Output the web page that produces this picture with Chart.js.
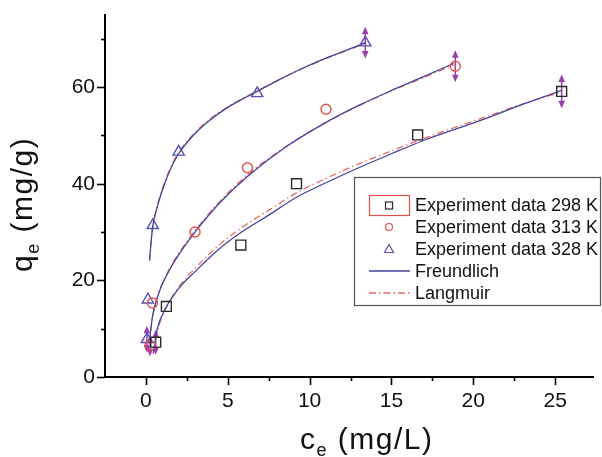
<!DOCTYPE html>
<html>
<head>
<meta charset="utf-8">
<script src="https://cdn.jsdelivr.net/npm/chart.js@4.4.0/dist/chart.umd.min.js"></script>
<style>
  body { margin: 0; background: #fff; }
</style>
</head>
<body>
<canvas id="isoterma" width="602" height="457"></canvas>
<script>
// experiment data (c_e in mg/L, q_e in mg/g)
const x298 = [0.6, 1.25, 5.8, 9.2, 16.6, 25.4];
const y298 = [7.2, 14.6, 27.3, 40.0, 50.1, 59.1];
const x313 = [0.25, 0.4, 3.0, 6.2, 11.0, 18.9];
const y313 = [6.5, 15.3, 30.0, 43.3, 55.4, 64.3];
const x328 = [0.06, 0.12, 0.42, 2.0, 6.8, 13.4];
const y328 = [7.8, 16.0, 31.4, 46.6, 58.7, 69.2];

// fitted curves
const xFit298 = [0.45, 0.7, 1.2, 2.0, 3.0, 4.4, 5.8, 7.5, 9.2, 11, 13, 15, 17, 19, 21, 23, 25.4];
const yFreu298 = [5.0, 10.0, 14.2, 18.3, 21.8, 26.3, 29.9, 33.5, 37.2, 40.2, 43.3, 46.2, 49.0, 51.4, 53.8, 56.4, 59.3];
const yLang298 = [4.8, 9.5, 14.0, 18.6, 22.5, 27.1, 30.8, 34.5, 38.1, 41.1, 44.1, 46.8, 49.4, 51.8, 54.1, 56.5, 59.0];

const xFit313 = [0.2, 0.4, 0.8, 1.5, 2.2, 3.0, 4.5, 6.2, 8.5, 10.9, 13, 15, 17, 18.8];
const yFreu313 = [7.0, 12.5, 17.5, 22.5, 26.3, 30.0, 36.0, 41.5, 47.5, 52.5, 56.2, 59.3, 62.2, 64.9];
const yLang313 = [6.6, 12.3, 17.6, 22.8, 26.6, 30.3, 36.3, 41.8, 47.6, 52.5, 56.1, 59.2, 62.0, 64.6];

const xFit328 = [0.22, 0.4, 0.7, 1.0, 1.5, 2.0, 3.0, 4.0, 5.0, 6.0, 6.8, 8.0, 9.5, 11.0, 12.3, 13.4];
const yFreu328 = [24.2, 30.8, 35.3, 38.6, 43.0, 46.2, 50.4, 53.4, 55.8, 57.7, 59.1, 61.3, 63.8, 66.0, 67.7, 69.2];
const yLang328 = [24.0, 30.6, 35.4, 38.9, 43.3, 46.5, 50.6, 53.6, 55.9, 57.8, 59.2, 61.3, 63.7, 65.9, 67.6, 69.0];

// error bars (purple double arrows)
const errX = [0.06, 0.25, 0.6, 13.4, 18.9, 25.4];
const errY = [7.8, 6.5, 7.2, 69.2, 64.3, 59.1];
const errD = [2.8, 2.2, 2.6, 3.3, 3.3, 3.5];

// axis ticks
const xMajor = [0, 5, 10, 15, 20, 25];
const xMinor = [2.5, 7.5, 12.5, 17.5, 22.5];
const yMajor = [0, 20, 40, 60];
const yMinor = [10, 30, 50, 70];

const legendLabels = ['Experiment data 298 K', 'Experiment data 313 K', 'Experiment data 328 K', 'Freundlich', 'Langmuir'];

const colBlack = '#2a2a2a';
const colRed = '#e5504a';
const colBlue = '#5353b0';
const colFreu = '#4444a0';
const colLang = '#e86a62';
const colErr = '#9a3fae';
const dashLang = [7, 3, 1.5, 3];
const fontFam = 'Arial, "Liberation Sans", sans-serif';

function toXY(xs, ys) {
    return xs.map((x, i) => ({ x: x, y: ys[i] }));
}

function pointSet(xs, ys, style, color, radius) {
    return {
        type: 'scatter',
        data: toXY(xs, ys),
        showLine: false,
        pointStyle: style,
        pointRadius: radius,
        pointBorderColor: color,
        pointBackgroundColor: 'rgba(0,0,0,0)',
        pointBorderWidth: 1.4
    };
}

function curveSet(xs, ys, color, dash) {
    return {
        type: 'line',
        data: toXY(xs, ys),
        showLine: true,
        borderColor: color,
        borderWidth: 1.3,
        borderDash: dash,
        pointRadius: 0,
        cubicInterpolationMode: 'monotone',
        fill: false
    };
}

function drawArrowHead(ctx, x, y, dir) {
    ctx.beginPath();
    ctx.moveTo(x, y);
    ctx.lineTo(x - 3.3, y - dir * 7.5);
    ctx.lineTo(x + 3.3, y - dir * 7.5);
    ctx.closePath();
    ctx.fill();
}

// text with a subscript "e" after the first letter
function subTitle(ctx, first, rest, x, y) {
    ctx.letterSpacing = '1.5px';
    ctx.font = '30px ' + fontFam;
    ctx.fillText(first, x, y);
    x += ctx.measureText(first).width;
    ctx.font = '18px ' + fontFam;
    ctx.fillText('e', x, y + 7);
    x += ctx.measureText('e').width;
    ctx.font = '30px ' + fontFam;
    ctx.fillText(rest, x, y);
    ctx.letterSpacing = '0px';
}

const decor = {
    id: 'decor',
    beforeDatasetsDraw(chart) {
        const ctx = chart.ctx;
        const xs = chart.scales.x, ys = chart.scales.y;
        ctx.save();
        ctx.strokeStyle = colErr;
        ctx.fillStyle = colErr;
        ctx.lineWidth = 1.5;
        errX.forEach((v, i) => {
            const px = xs.getPixelForValue(v);
            const top = ys.getPixelForValue(errY[i] + errD[i]);
            const bot = ys.getPixelForValue(errY[i] - errD[i]);
            ctx.beginPath();
            ctx.moveTo(px, top + 3);
            ctx.lineTo(px, bot - 3);
            ctx.stroke();
            drawArrowHead(ctx, px, top, -1);
            drawArrowHead(ctx, px, bot, 1);
        });
        ctx.restore();
    },
    afterDraw(chart) {
        const ctx = chart.ctx;
        const xs = chart.scales.x, ys = chart.scales.y;
        const area = chart.chartArea;
        ctx.save();
        ctx.strokeStyle = '#000';
        ctx.lineWidth = 1.6;
        // tick marks, minor ones shorter
        xMajor.concat(xMinor).forEach(v => {
            const px = Math.round(xs.getPixelForValue(v)) + 0.5;
            const len = xMajor.includes(v) ? 8 : 4;
            ctx.beginPath();
            ctx.moveTo(px, area.bottom);
            ctx.lineTo(px, area.bottom + len);
            ctx.stroke();
        });
        yMajor.concat(yMinor).forEach(v => {
            const py = Math.round(ys.getPixelForValue(v)) + 0.5;
            const len = yMajor.includes(v) ? 8 : 4;
            ctx.beginPath();
            ctx.moveTo(area.left, py);
            ctx.lineTo(area.left - len, py);
            ctx.stroke();
        });

        // axis titles
        ctx.fillStyle = '#111';
        ctx.textBaseline = 'alphabetic';
        ctx.textAlign = 'left';
        subTitle(ctx, 'c', ' (mg/L)', 300, 449);
        ctx.save();
        ctx.translate(32, 272);
        ctx.rotate(-Math.PI / 2);
        subTitle(ctx, 'q', ' (mg/g)', 0, 0);
        ctx.restore();

        // legend box
        const lx = 354.5, ly = 177.5, lw = 246, lh = 128;
        ctx.fillStyle = '#fff';
        ctx.fillRect(lx, ly, lw, lh);
        ctx.strokeStyle = '#555';
        ctx.lineWidth = 1.2;
        ctx.strokeRect(lx, ly, lw, lh);
        const rowY = [205.5, 227, 249, 271, 293];
        const symX = 389;
        ctx.font = '18px ' + fontFam;
        ctx.textBaseline = 'middle';
        ctx.fillStyle = '#111';
        legendLabels.forEach((t, i) => ctx.fillText(t, 415, rowY[i] + 1));
        // selection frame around the first symbol
        ctx.strokeStyle = colRed;
        ctx.lineWidth = 1.2;
        ctx.strokeRect(369.5, 195.5, 40, 20);
        ctx.lineWidth = 1.2;
        ctx.strokeStyle = colBlack;
        ctx.strokeRect(symX - 3.5, rowY[0] - 3.5, 7, 7);
        ctx.strokeStyle = colRed;
        ctx.beginPath();
        ctx.arc(symX, rowY[1], 3.5, 0, Math.PI * 2);
        ctx.stroke();
        ctx.strokeStyle = colBlue;
        ctx.beginPath();
        ctx.moveTo(symX, rowY[2] - 4.5);
        ctx.lineTo(symX + 4.5, rowY[2] + 3.5);
        ctx.lineTo(symX - 4.5, rowY[2] + 3.5);
        ctx.closePath();
        ctx.stroke();
        ctx.lineWidth = 1.3;
        ctx.strokeStyle = colFreu;
        ctx.beginPath();
        ctx.moveTo(369, rowY[3]);
        ctx.lineTo(410, rowY[3]);
        ctx.stroke();
        ctx.strokeStyle = colLang;
        ctx.setLineDash(dashLang);
        ctx.beginPath();
        ctx.moveTo(369, rowY[4]);
        ctx.lineTo(410, rowY[4]);
        ctx.stroke();
        ctx.restore();
    }
};

const tickFont = { family: fontFam, size: 21 };

new Chart(document.getElementById('isoterma'), {
    type: 'scatter',
    data: {
        datasets: [
            pointSet(x298, y298, 'rect', colBlack, 7),
            pointSet(x313, y313, 'circle', colRed, 5),
            pointSet(x328, y328, 'triangle', colBlue, 6.5),
            curveSet(xFit298, yFreu298, colFreu, []),
            curveSet(xFit298, yLang298, colLang, dashLang),
            curveSet(xFit313, yFreu313, colFreu, []),
            curveSet(xFit313, yLang313, colLang, dashLang),
            curveSet(xFit328, yFreu328, colFreu, []),
            curveSet(xFit328, yLang328, colLang, dashLang)
        ]
    },
    options: {
        responsive: false,
        animation: false,
        layout: { padding: { top: 12, right: 0, left: 0, bottom: 0 } },
        plugins: {
            legend: { display: false },
            tooltip: { enabled: false }
        },
        scales: {
            x: {
                type: 'linear',
                min: -2.5,
                max: 27.35,
                afterBuildTicks: s => { s.ticks = xMajor.map(v => ({ value: v })); },
                afterFit: s => { s.height = 80; },
                grid: { display: false, drawTicks: true, tickLength: 8 },
                border: { display: true, color: '#000', width: 2 },
                ticks: { font: tickFont, color: '#111', padding: 4, maxRotation: 0 }
            },
            y: {
                type: 'linear',
                min: 0,
                max: 75,
                afterBuildTicks: s => { s.ticks = yMajor.map(v => ({ value: v })); },
                afterFit: s => { s.width = 105; },
                grid: { display: false, drawTicks: true, tickLength: 8 },
                border: { display: true, color: '#000', width: 2 },
                ticks: { font: tickFont, color: '#111', padding: 2 }
            }
        }
    },
    plugins: [decor]
});
</script>
</body>
</html>
